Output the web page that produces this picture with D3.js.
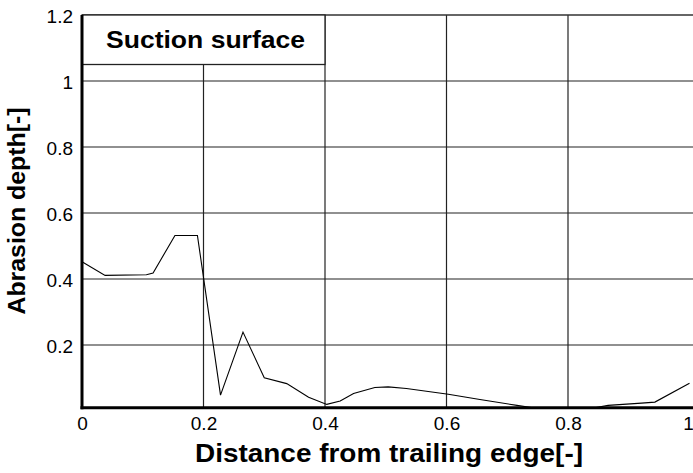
<!DOCTYPE html>
<html>
<head>
<meta charset="utf-8">
<script src="https://cdn.jsdelivr.net/npm/d3@7"></script>
<style>
  body { margin: 0; background: #fff; }
  text { font-family: "Liberation Sans", Arial, sans-serif; fill: #000; }
</style>
</head>
<body>
<div id="chart"></div>
<script>
    // data
    var distance = [0, 0.038, 0.106, 0.117, 0.153, 0.190, 0.228, 0.265, 0.300, 0.337, 0.373, 0.403,
      0.425, 0.447, 0.482, 0.504, 0.534, 0.603, 0.655, 0.716, 0.742, 0.844, 0.866, 0.921, 0.943, 1.0];
    var depth = [0.452, 0.411, 0.413, 0.418, 0.532, 0.532, 0.048, 0.239, 0.101, 0.083, 0.042, 0.020,
      0.030, 0.053, 0.071, 0.073, 0.068, 0.051, 0.035, 0.017, 0.010, 0.010, 0.017, 0.024, 0.027, 0.084];
    var xTicks = [0, 0.2, 0.4, 0.6, 0.8, 1];
    var yTicks = [0.2, 0.4, 0.6, 0.8, 1, 1.2];
    var boxTop = 1.2, boxBottom = 1.05, boxRight = 0.4;
    var title = "Suction surface";

    var W = 693, H = 473;
    var svg = d3.select("#chart")
      .append("svg")
      .attr("width", W)
      .attr("height", H);

    // scales (bottom axis sits a touch above zero)
    var x = d3.scaleLinear().domain([0, 1]).range([82, 689.5]);
    var y = d3.scaleLinear().domain([0.01, 1.2]).range([407.7, 15]);

    var fmt = function (d) { return String(+d.toFixed(1)); };

    // grid lines
    svg.append("g").selectAll("line")
      .data(yTicks.filter(function (d) { return d < 1.2; }))
      .enter().append("line")
      .attr("x1", x(0)).attr("x2", W)
      .attr("y1", function (d) { return y(d); })
      .attr("y2", function (d) { return y(d); })
      .attr("stroke", "#222").attr("stroke-width", 1.2);

    svg.append("g").selectAll("line")
      .data(xTicks.filter(function (d) { return d > 0 && d < 1; }))
      .enter().append("line")
      .attr("x1", function (d) { return x(d); })
      .attr("x2", function (d) { return x(d); })
      .attr("y1", y(1.2)).attr("y2", y(0.01))
      .attr("stroke", "#222").attr("stroke-width", 1.2);

    // top border
    svg.append("line")
      .attr("x1", x(0)).attr("x2", W)
      .attr("y1", y(1.2)).attr("y2", y(1.2))
      .attr("stroke", "#333").attr("stroke-width", 1.6);

    // title box
    svg.append("rect")
      .attr("x", x(0))
      .attr("y", y(boxTop))
      .attr("width", x(boxRight) - x(0))
      .attr("height", y(boxBottom) - y(boxTop))
      .attr("fill", "#fff")
      .attr("stroke", "#222")
      .attr("stroke-width", 1.3);

    svg.append("text")
      .attr("x", 205.5)
      .attr("y", 48.3)
      .attr("text-anchor", "middle")
      .attr("font-size", 24)
      .attr("font-weight", "bold")
      .attr("textLength", 199)
      .attr("lengthAdjust", "spacingAndGlyphs")
      .text(title);

    // the curve
    var pts = distance.map(function (d, i) { return [d, depth[i]]; });
    svg.append("path")
      .datum(pts)
      .attr("fill", "none")
      .attr("stroke", "#000")
      .attr("stroke-width", 1.1)
      .attr("d", d3.line()
        .x(function (d) { return x(d[0]); })
        .y(function (d) { return y(d[1]); }));

    // axes
    var xAxis = svg.append("g")
      .attr("transform", "translate(0," + y(0.01) + ")")
      .call(d3.axisBottom(x).tickValues(xTicks).tickFormat(fmt).tickSize(0).tickPadding(9));
    xAxis.select(".domain").remove();
    xAxis.selectAll("text").attr("font-size", 19).attr("font-family", null).attr("dy", "0.71em");
    // keep the last label inside the page
    xAxis.selectAll(".tick").filter(function (d) { return d === 1; })
      .select("text").attr("text-anchor", "end").attr("dx", "0.2em");

    var yAxis = svg.append("g")
      .attr("transform", "translate(" + x(0) + ",0)")
      .call(d3.axisLeft(y).tickValues(yTicks).tickFormat(fmt).tickSize(0).tickPadding(9));
    yAxis.select(".domain").remove();
    yAxis.selectAll("text").attr("font-size", 19).attr("font-family", null).attr("dy", "0.38em");

    // thick axis lines
    svg.append("line")
      .attr("x1", x(0)).attr("x2", x(0))
      .attr("y1", y(1.2)).attr("y2", y(0.01) + 1.5)
      .attr("stroke", "#000").attr("stroke-width", 3);
    svg.append("line")
      .attr("x1", x(0) - 1.5).attr("x2", W)
      .attr("y1", y(0.01)).attr("y2", y(0.01))
      .attr("stroke", "#000").attr("stroke-width", 3);

    // axis titles
    svg.append("text")
      .attr("x", 389)
      .attr("y", 461.7)
      .attr("text-anchor", "middle")
      .attr("font-size", 25)
      .attr("font-weight", "bold")
      .attr("textLength", 388)
      .attr("lengthAdjust", "spacingAndGlyphs")
      .text("Distance from trailing edge[-]");

    svg.append("text")
      .attr("transform", "translate(25,211)rotate(-90)")
      .attr("text-anchor", "middle")
      .attr("font-size", 23)
      .attr("font-weight", "bold")
      .attr("textLength", 207)
      .attr("lengthAdjust", "spacingAndGlyphs")
      .text("Abrasion depth[-]");
</script>
</body>
</html>
